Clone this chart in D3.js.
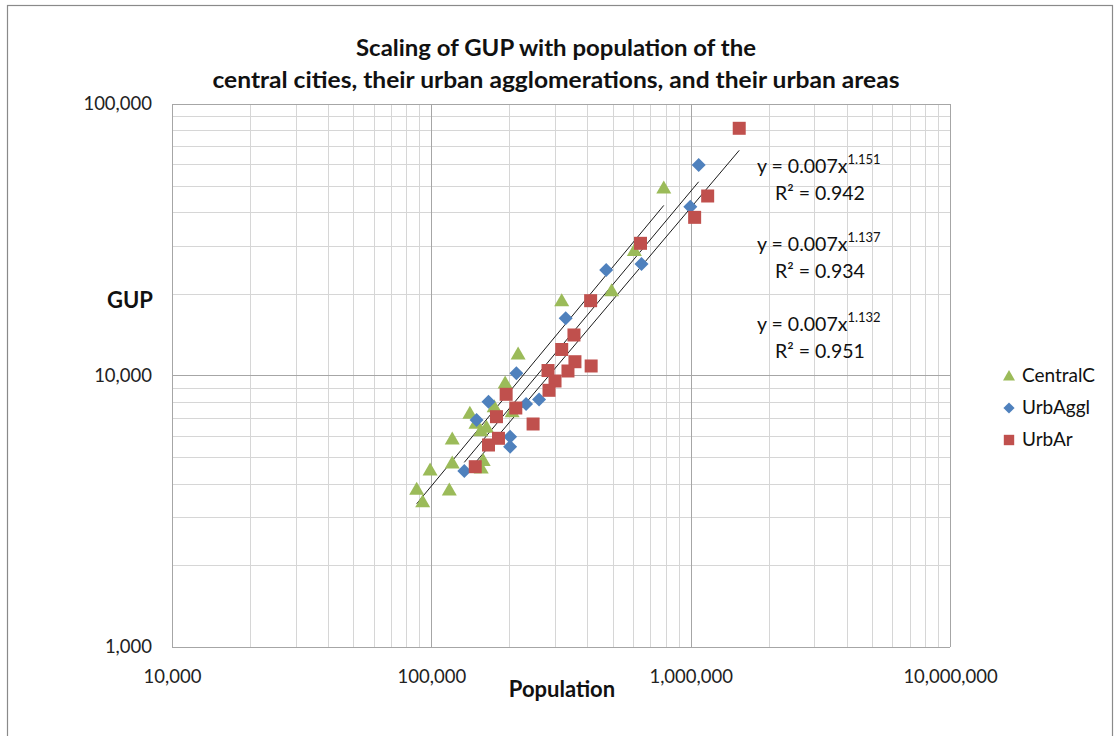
<!DOCTYPE html>
<html><head><meta charset="utf-8">
<script src="https://cdn.jsdelivr.net/npm/d3@7"></script>
<style>
html,body{margin:0;padding:0;background:#fff;}
svg{display:block;font-family:Lato,"Noto Sans",sans-serif;}
</style></head>
<body>
<svg id="chart" width="1120" height="736"></svg>
<script>
// ---- data ----
const seriesNames = ["CentralC", "UrbAggl", "UrbAr"];
const seriesColors = ["#9BBB59", "#4F81BD", "#C0504D"];
const centralPop = [87800, 92600, 98900, 117300, 120400, 120400, 140800, 148600, 155300, 163200, 158500, 155700, 174700, 192600, 204900, 216100, 318200, 495500, 606500, 787500];
const centralGUP = [3808, 3429, 4486, 3786, 4761, 5837, 7258, 6668, 6263, 6446, 4864, 4563, 7676, 9385, 7357, 12000, 18860, 20530, 28870, 49040];
const agglPop = [1073600, 997000, 646400, 472300, 329600, 212800, 166100, 231900, 260300, 149400, 201300, 201300, 134000];
const agglGUP = [59620, 41860, 25740, 24460, 16240, 10190, 8009, 7852, 8157, 6856, 5953, 5469, 4448];
const areaPop = [1539000, 1163000, 1036000, 640600, 411400, 354800, 318200, 357900, 413300, 281800, 336400, 299900, 284300, 194300, 211700, 178300, 246800, 181500, 166100, 147700];
const areaGUP = [81380, 45830, 38240, 30680, 18860, 14100, 12470, 11240, 10840, 10430, 10390, 9544, 8820, 8525, 7591, 7052, 6628, 5871, 5546, 4614];
const fitCoef = ["0.007", "0.007", "0.007"];
const fitExp = ["1.151", "1.137", "1.132"];
const fitR2 = ["0.942", "0.934", "0.951"];
const xTickValues = [1e4, 1e5, 1e6, 1e7];
const yTickValues = [1e3, 1e4, 1e5];
const titleLines = ["Scaling of GUP with population of the", "central cities, their urban agglomerations, and their urban areas"];
const xTitle = "Population";
const yTitle = "GUP";

const series = [
  {name: seriesNames[0], color: seriesColors[0], shape: "triangle", pts: centralPop.map((p, i) => [p, centralGUP[i]])},
  {name: seriesNames[1], color: seriesColors[1], shape: "diamond", pts: agglPop.map((p, i) => [p, agglGUP[i]])},
  {name: seriesNames[2], color: seriesColors[2], shape: "square", pts: areaPop.map((p, i) => [p, areaGUP[i]])}
];

// ---- layout ----
const svg = d3.select("#chart");
const L = 172, R = 950, T = 104, B = 647;
const x = d3.scaleLog().domain([1e4, 1e7]).range([L, R]);
const y = d3.scaleLog().domain([1e3, 1e5]).range([B, T]);

// outer chart border
svg.append("rect").attr("x", 7.5).attr("y", 5.5).attr("width", 1105).attr("height", 745)
  .attr("fill", "none").attr("stroke", "#8a8a8a").attr("stroke-width", 1.2);

// gridlines
const isMajor = v => Math.abs(Math.log10(v) - Math.round(Math.log10(v))) < 1e-9;
const g = svg.append("g");
const xt = x.ticks(), yt = y.ticks();
g.selectAll(".gx").data(xt.filter(v => !isMajor(v))).join("line")
  .attr("x1", d => Math.round(x(d)) + 0.5).attr("x2", d => Math.round(x(d)) + 0.5)
  .attr("y1", T).attr("y2", B).attr("stroke", "#d6d6d6").attr("stroke-width", 1);
g.selectAll(".gy").data(yt.filter(v => !isMajor(v))).join("line")
  .attr("y1", d => Math.round(y(d)) + 0.5).attr("y2", d => Math.round(y(d)) + 0.5)
  .attr("x1", L).attr("x2", R).attr("stroke", "#d6d6d6").attr("stroke-width", 1);
g.selectAll(".mx").data(xt.filter(isMajor)).join("line")
  .attr("x1", d => Math.round(x(d)) + 0.5).attr("x2", d => Math.round(x(d)) + 0.5)
  .attr("y1", T).attr("y2", B).attr("stroke", "#a6a6a6").attr("stroke-width", 1);
g.selectAll(".my").data(yt.filter(isMajor)).join("line")
  .attr("y1", d => Math.round(y(d)) + 0.5).attr("y2", d => Math.round(y(d)) + 0.5)
  .attr("x1", L).attr("x2", R).attr("stroke", "#a6a6a6").attr("stroke-width", 1);

// axes labels via d3 axes
const fmt = d3.format(",");
const xAxis = svg.append("g").attr("transform", `translate(0,${B + 23})`)
  .call(d3.axisBottom(x).tickValues(xTickValues).tickFormat(fmt).tickSize(0).tickPadding(0));
xAxis.select(".domain").remove();
xAxis.selectAll("text").attr("font-size", 18.5).attr("fill", "#222").attr("font-family", "Lato,sans-serif");
const yAxis = svg.append("g").attr("transform", `translate(${L - 20},0)`)
  .call(d3.axisLeft(y).tickValues(yTickValues).tickFormat(fmt).tickSize(0).tickPadding(0));
yAxis.select(".domain").remove();
yAxis.selectAll("text").attr("font-size", 18.5).attr("fill", "#222").attr("font-family", "Lato,sans-serif");

// axis titles
svg.append("text").attr("x", 562).attr("y", 697).attr("text-anchor", "middle")
  .attr("font-size", 22).attr("font-weight", "bold").attr("fill", "#111").text(xTitle);
svg.append("text").attr("x", 130).attr("y", 308).attr("text-anchor", "middle")
  .attr("font-size", 22).attr("font-weight", "bold").attr("fill", "#111").text(yTitle);

// chart title
const tY = [56, 88];
const tW = [400, 687];
titleLines.forEach((t, i) => {
  svg.append("text").attr("x", 556).attr("y", tY[i]).attr("text-anchor", "middle")
    .attr("font-size", 23).attr("font-weight", "bold").attr("fill", "#111")
    .attr("textLength", tW[i]).attr("lengthAdjust", "spacingAndGlyphs").text(t);
});

// trendlines (least-squares fit in log-log space over each series' range)
series.forEach(s => {
  const lx = s.pts.map(p => Math.log10(p[0])), ly = s.pts.map(p => Math.log10(p[1]));
  const mx = d3.mean(lx), my = d3.mean(ly);
  const b = d3.sum(lx.map((v, i) => (v - mx) * (ly[i] - my))) / d3.sum(lx.map(v => (v - mx) ** 2));
  const a = my - b * mx;
  const ext = d3.extent(s.pts, p => p[0]);
  const f = v => Math.pow(10, a + b * Math.log10(v));
  svg.append("line").attr("x1", x(ext[0])).attr("y1", y(f(ext[0])))
    .attr("x2", x(ext[1])).attr("y2", y(f(ext[1])))
    .attr("stroke", "#1a1a1a").attr("stroke-width", 1);
});

// markers
function shapePath(shape) {
  if (shape === "triangle") return "M0,-7.5L7.5,5.5L-7.5,5.5Z";
  if (shape === "diamond") return "M0,-7L7,0L0,7L-7,0Z";
  return "M-6.5,-6.5H6.5V6.5H-6.5Z";
}
series.forEach(s => {
  svg.append("g").selectAll("path").data(s.pts).join("path")
    .attr("d", shapePath(s.shape))
    .attr("transform", d => `translate(${x(d[0])},${y(d[1])})`)
    .attr("fill", s.color);
});

// equation labels
const eqY = [173, 251, 331];
fitExp.forEach((e, i) => {
  const t = svg.append("text").attr("x", 757).attr("y", eqY[i]).attr("font-size", 19.5).attr("fill", "#111");
  t.append("tspan").text(`y = ${fitCoef[i]}x`);
  t.append("tspan").attr("dy", -9).attr("font-size", 13).text(e);
  svg.append("text").attr("x", 775).attr("y", eqY[i] + 27).attr("font-size", 19.5).attr("fill", "#111")
    .text(`R² = ${fitR2[i]}`);
});

// legend
series.forEach((s, i) => {
  const ly = 376 + i * 32;
  svg.append("path").attr("d", shapePath(s.shape))
    .attr("transform", `translate(1009,${ly}) scale(0.8)`).attr("fill", s.color);
  svg.append("text").attr("x", 1022).attr("y", ly + 6).attr("font-size", 19).attr("fill", "#111").text(s.name);
});
</script>
</body></html>
